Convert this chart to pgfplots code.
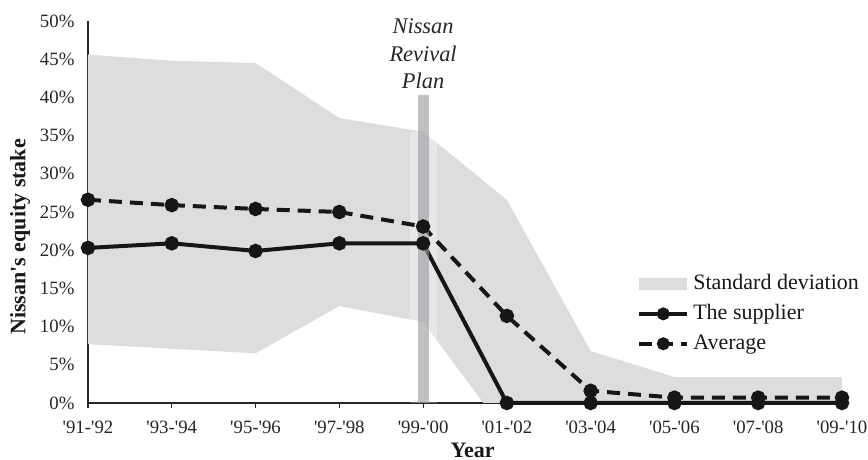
\documentclass[border=0pt]{standalone}
\usepackage{pgfplots}
\pgfplotsset{compat=1.18}
\usepackage{fontspec}
\setmainfont{Liberation Serif}
\definecolor{band}{RGB}{220,221,223}
\definecolor{ln}{RGB}{22,22,22}
\definecolor{barc}{RGB}{154,154,158}
\newcommand\q{\textquotesingle}
\begin{document}
\begin{tikzpicture}
\begin{axis}[
  at={(0,0)}, anchor=south west, scale only axis,
  width=377pt, height=191pt,
  xmin=0, xmax=9, ymin=0, ymax=50,
  clip=false,
  axis x line=bottom, axis y line=left,
  axis line style={-, draw=black!85, line width=0.75pt},
  xtick={0,1,2,3,4,5,6,7,8,9},
  xticklabels={{\q91-\q92},{\q93-\q94},{\q95-\q96},{\q97-\q98},{\q99-\q00},{\q01-\q02},{\q03-\q04},{\q05-\q06},{\q07-\q08},{\q09-\q10}},
  ytick={0,5,10,15,20,25,30,35,40,45,50},
  yticklabels={0\%,5\%,10\%,15\%,20\%,25\%,30\%,35\%,40\%,45\%,50\%},
  tick label style={font=\fontsize{9.4}{11}\selectfont, text=black!85},
  xtick align=outside,
  major tick length=2.5pt,
  x tick style={draw=black!85, line width=0.6pt},
  y tick style={draw=none},
  yticklabel style={xshift=-2pt},
  xticklabel style={anchor=base, yshift=-13pt},
  xlabel={\textbf{Year}},
  ylabel={\textbf{Nissan\q s equity stake}},
  label style={font=\fontsize{11}{13}\selectfont, text=black!90},
  xlabel style={at={(axis description cs:0.51,0)}, anchor=base, yshift=-27.3pt},
  ylabel style={at={(axis description cs:-0.0902,0.435)}, anchor=center},
  legend style={at={(axis description cs:0.728,0.348)}, anchor=north west, draw=none, fill=none,
    font=\fontsize{11}{13}\selectfont, inner sep=0pt, row sep=2pt, text=black!90},
  legend cell align=left,
]
% standard deviation band (upper edge, then lower edge back)
\addplot[draw=none, fill=band, area legend,
  legend image code/.code={\fill[band] (0pt,-3pt) rectangle (24pt,3pt);}]
  coordinates {(0,45.6) (1,44.8) (2,44.5) (3,37.3) (4,35.5) (5,26.6) (6,6.8) (7,3.4) (8,3.4) (9,3.4)
               (9,0) (8,0) (7,0) (6,0) (5,0) (4.72,0) (4,10.6) (3,12.7) (2,6.5) (1,7.1) (0,7.7)} --cycle;
\addlegendentry{Standard deviation}
% light strip
\addplot[forget plot, draw=white, opacity=0.3, line width=13.5pt, line cap=butt]
  coordinates {(4,0) (4,35.5)};
% supplier
\addplot[ln, line width=2pt, mark=*, mark size=2.6pt, mark options={solid, fill=ln},
  legend image code/.code={\draw[mark repeat=2, mark phase=2, mark size=2.2pt] plot coordinates {(0pt,0pt) (12pt,0pt) (24pt,0pt)};}]
  coordinates {(0,20.3) (1,20.9) (2,19.9) (3,20.9) (4,20.9) (5,0) (6,0) (7,0) (8,0) (9,0)};
\addlegendentry{The supplier}
% average
\addplot[ln, line width=2pt, dash pattern=on 6.5pt off 4pt, mark=*, mark size=2.6pt, mark options={solid, fill=ln},
  legend image code/.code={\draw[mark repeat=2, mark phase=2, mark size=2.2pt] plot coordinates {(0pt,0pt) (12pt,0pt) (24pt,0pt)};}]
  coordinates {(0,26.6) (1,25.9) (2,25.4) (3,25.0) (4,23.1) (5,11.4) (6,1.6) (7,0.7) (8,0.7) (9,0.7)};
\addlegendentry{Average}
% Nissan Revival Plan bar
\addplot[forget plot, draw=barc, opacity=0.62, line width=5.5pt, line cap=butt]
  coordinates {(4,0) (4,40.3)};
\node[anchor=south, align=center, inner sep=0pt, font=\fontsize{11.2}{13.6}\selectfont\itshape, text=black!85]
  at (axis cs:4,41.1) {Nissan\\Revival\\Plan};
\end{axis}
\pgfresetboundingbox
\path[use as bounding box] (-44pt,-28.5pt) rectangle (390pt,201.5pt);
\end{tikzpicture}
\end{document}
